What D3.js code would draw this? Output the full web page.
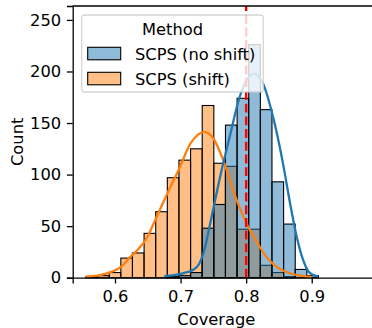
<!DOCTYPE html>
<html>
<head>
<meta charset="utf-8">
<script src="https://cdn.jsdelivr.net/npm/d3@7"></script>
<style>
  body { margin: 0; background: #fff; }
  svg { display: block; font-family: "DejaVu Sans", sans-serif; }
</style>
</head>
<body>
<svg id="chart" width="372" height="328"></svg>
<script>
// histogram bins (shared by both hues)
const binStart = 0.5557;
const binWidth = 0.01773;
const shiftCounts = [1, 2, 5, 19, 24, 43, 64, 97, 114, 125, 167, 111, 108, 47, 47, 12, 5, 1, 0, 0];
const noShiftCounts = [0, 0, 0, 0, 0, 0, 0, 1, 2, 5, 48, 71, 148, 174, 226, 163, 93, 52, 8, 2];

// kde curves
const shiftKdeX = [0.5557, 0.577, 0.591, 0.61, 0.623, 0.636, 0.648, 0.662, 0.68, 0.698, 0.715, 0.727, 0.737, 0.75, 0.765, 0.78, 0.796, 0.803, 0.816, 0.831, 0.846, 0.867, 0.887, 0.9];
const shiftKdeY = [1.2, 2.6, 4.9, 11, 20, 28, 38, 57, 82, 106, 130, 139, 141.5, 135, 114, 85, 59, 49.5, 35, 20, 10.7, 4.3, 1.6, 0.7];
const noShiftKdeX = [0.675, 0.69, 0.705, 0.719, 0.728, 0.735, 0.745, 0.76, 0.775, 0.79, 0.801, 0.813, 0.826, 0.841, 0.857, 0.867, 0.877, 0.887, 0.895, 0.903, 0.91];
const noShiftKdeY = [1.5, 2.5, 4.5, 7.5, 13, 24, 52, 97, 137, 175, 192, 198, 188, 156, 108, 72, 40, 17, 6, 2.5, 1.2];

const xTicks = [0.6, 0.7, 0.8, 0.9];
const yTicks = [0, 50, 100, 150, 200, 250];
const target = 0.8;
const legendLabels = ['SCPS (no shift)', 'SCPS (shift)'];

const blue = '#1f77b4';
const orange = '#ff7f0e';
const fontSize = 16.3;

const svg = d3.select('#chart');
const x = d3.scaleLinear().domain([0.5355, 1.0]).range([72.7, 377.3]);
const y = d3.scaleLinear().domain([0, 263.5]).range([277.7, 6]);

const edges = d3.range(shiftCounts.length + 1).map((i) => binStart + i * binWidth);

function drawBars(counts, color) {
  svg.append('g')
    .selectAll('rect')
    .data(counts.map((c, i) => ({ c, x0: edges[i], x1: edges[i + 1] })).filter((d) => d.c > 0))
    .join('rect')
    .attr('x', (d) => x(d.x0))
    .attr('width', (d) => x(d.x1) - x(d.x0))
    .attr('y', (d) => y(d.c))
    .attr('height', (d) => y(0) - y(d.c))
    .attr('fill', color)
    .attr('fill-opacity', 0.5)
    .attr('stroke', '#000')
    .attr('stroke-width', 1.1);
}

drawBars(shiftCounts, orange);
drawBars(noShiftCounts, blue);

const line = d3.line()
  .x((d) => x(d[0]))
  .y((d) => y(d[1]))
  .curve(d3.curveMonotoneX);

svg.append('path')
  .datum(d3.zip(shiftKdeX, shiftKdeY))
  .attr('fill', 'none')
  .attr('stroke', orange)
  .attr('stroke-width', 2.3)
  .attr('d', line);

svg.append('path')
  .datum(d3.zip(noShiftKdeX, noShiftKdeY))
  .attr('fill', 'none')
  .attr('stroke', blue)
  .attr('stroke-width', 2.3)
  .attr('d', line);

svg.append('line')
  .attr('x1', x(target)).attr('x2', x(target))
  .attr('y1', y.range()[0]).attr('y2', y.range()[1])
  .attr('stroke', 'red')
  .attr('stroke-width', 2.4)
  .attr('stroke-dasharray', '8.9,3.8');

// spines
svg.append('line')
  .attr('x1', x.range()[0]).attr('x2', x.range()[1])
  .attr('y1', y.range()[1]).attr('y2', y.range()[1])
  .attr('stroke', '#000').attr('stroke-width', 1.3);

const xAxis = d3.axisBottom(x).tickValues(xTicks).tickFormat(d3.format('.1f')).tickSize(5.8).tickPadding(6.5);
const yAxis = d3.axisLeft(y).tickValues(yTicks).tickSize(5.8).tickPadding(5.7);

svg.append('g').attr('transform', `translate(0,${y(0)})`).call(xAxis);
svg.append('g').attr('transform', `translate(${x.range()[0]},0)`).call(yAxis);

svg.selectAll('.domain').attr('stroke', '#000').attr('stroke-width', 1.3);
svg.selectAll('.tick line').attr('stroke', '#000').attr('stroke-width', 1.3);
svg.selectAll('.tick text')
  .attr('fill', '#000')
  .style('font-size', `${fontSize}px`)
  .style('font-family', '"DejaVu Sans", sans-serif');

svg.append('text')
  .attr('x', (x(0.6) + x(0.9)) / 2 + 3)
  .attr('y', 324.5)
  .attr('text-anchor', 'middle')
  .style('font-size', `${fontSize}px`)
  .text('Coverage');

svg.append('text')
  .attr('transform', `translate(22.5,${(y.range()[0] + y.range()[1]) / 2}) rotate(-90)`)
  .attr('text-anchor', 'middle')
  .style('font-size', `${fontSize}px`)
  .text('Count');

// legend
const legend = svg.append('g');
legend.append('rect')
  .attr('x', 81.7).attr('y', 15)
  .attr('width', 181.6).attr('height', 77)
  .attr('rx', 3)
  .attr('fill', '#fff').attr('fill-opacity', 0.8)
  .attr('stroke', '#ccc').attr('stroke-opacity', 0.8).attr('stroke-width', 1.3);

legend.append('text')
  .attr('x', 172.5).attr('y', 35)
  .attr('text-anchor', 'middle')
  .style('font-size', `${fontSize}px`)
  .text('Method');

[blue, orange].forEach((c, i) => {
  const top = 47.3 + i * 25;
  legend.append('rect')
    .attr('x', 87.7).attr('y', top)
    .attr('width', 33).attr('height', 12.5)
    .attr('fill', c).attr('fill-opacity', 0.5)
    .attr('stroke', '#000').attr('stroke-width', 1.1);
  legend.append('text')
    .attr('x', 135).attr('y', top + 12.3)
    .style('font-size', `${fontSize}px`)
    .text(legendLabels[i]);
});
</script>
</body>
</html>
